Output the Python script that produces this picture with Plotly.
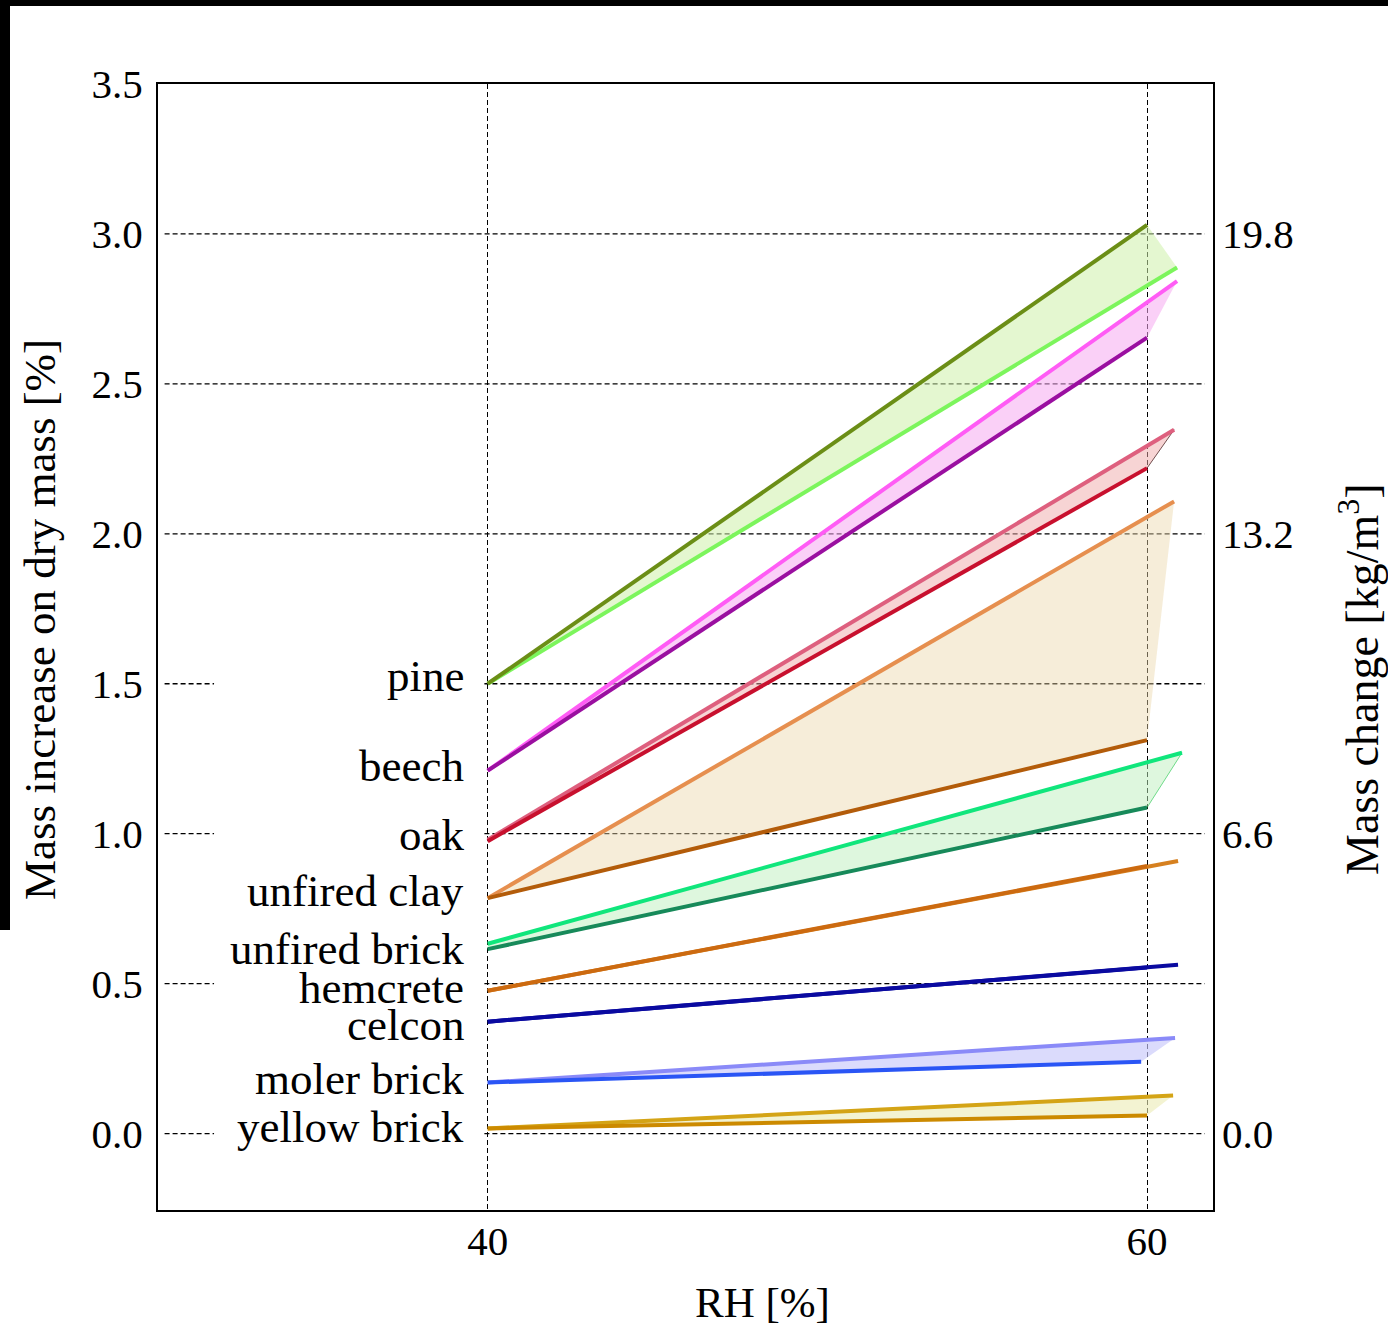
import plotly.graph_objects as go

# ---------------- data ----------------
materials = ["pine", "beech", "oak", "unfired clay", "unfired brick",
             "hemcrete", "celcon", "moler brick", "yellow brick"]
rh_start = 40
start_a = [1.50, 1.21, 0.975, 0.785, 0.615, 0.476, 0.373, 0.170, 0.017]
start_b = [1.50, 1.21, 0.980, 0.785, 0.633, 0.476, 0.373, 0.170, 0.017]
rh_end_a = [60, 60, 60, 60, 60, 60, 60, 59.82, 60]
end_a = [3.030, 2.654, 2.219, 1.312, 1.087, 0.892, 0.554, 0.239, 0.060]
rh_end_b = [60.91, 60.91, 60.82, 60.82, 61.06, 60.94, 60.94, 60.85, 60.79]
end_b = [2.888, 2.843, 2.347, 2.108, 1.270, 0.909, 0.563, 0.319, 0.127]
label_y = [1.525, 1.225, 0.995, 0.809, 0.615, 0.485, 0.362, 0.182, 0.022]

color_a = ["#6b8e16", "#9a0fa0", "#c8102e", "#b35c0a", "#178a5a",
           "#cc6a10", "#0a0aa0", "#2a55f5", "#cc8a00"]
color_b = ["#7cf55c", "#ff5cf5", "#de5f7e", "#e68f4f", "#10e67c",
           "#d6801f", "#0a0aa0", "#8a8af8", "#d4a416"]
fill_colors = ["rgba(205,240,170,0.55)", "rgba(245,170,240,0.55)",
               "rgba(240,170,170,0.5)", "rgba(235,215,170,0.45)",
               "rgba(190,240,190,0.5)", "rgba(230,170,110,0.3)",
               "rgba(120,120,220,0.3)", "rgba(200,200,250,0.65)",
               "rgba(235,235,180,0.6)"]
edge_colors = ["rgba(0,0,0,0)", "rgba(0,0,0,0)", "rgba(60,20,20,0.9)",
               "rgba(0,0,0,0)", "rgba(40,200,80,0.8)", "rgba(0,0,0,0)",
               "rgba(0,0,0,0)", "rgba(0,0,0,0)", "rgba(0,0,0,0)"]

left_ticks = [0.0, 0.5, 1.0, 1.5, 2.0, 2.5, 3.0, 3.5]
right_factor = 6.6
right_ticks = [0.0, 6.6, 13.2, 19.8]
x_ticks = [40, 60]
grid_levels = [0.0, 0.5, 1.0, 1.5, 2.0, 2.5, 3.0]

y_range = [-0.255, 3.5]
x_range = [30, 62]

FONT = "Liberation Serif"

fig = go.Figure()

# fills
for i, m in enumerate(materials):
    fig.add_trace(go.Scatter(
        x=[rh_start, rh_end_a[i], rh_end_b[i], rh_start],
        y=[start_a[i], end_a[i], end_b[i], start_b[i]],
        fill="toself", fillcolor=fill_colors[i],
        mode="lines", line=dict(color=edge_colors[i], width=0.8),
        hoverinfo="skip", showlegend=False))

# lines
for i, m in enumerate(materials):
    fig.add_trace(go.Scatter(
        x=[rh_start, rh_end_b[i]], y=[start_b[i], end_b[i]],
        mode="lines", line=dict(color=color_b[i], width=4),
        name=m + " (upper)", showlegend=False))
    fig.add_trace(go.Scatter(
        x=[rh_start, rh_end_a[i]], y=[start_a[i], end_a[i]],
        mode="lines", line=dict(color=color_a[i], width=4),
        name=m, showlegend=False))

# dummy trace for right axis
fig.add_trace(go.Scatter(x=[None], y=[None], yaxis="y2", showlegend=False,
                         hoverinfo="skip"))

# horizontal dashed grid segments
shapes = []
for g in grid_levels:
    segs = [(30.2, 31.7), (39.9, 61.75)] if g <= 1.5 else [(30.2, 61.75)]
    for a, b in segs:
        shapes.append(dict(type="line", xref="x", yref="y", x0=a, x1=b,
                           y0=g, y1=g, layer="below",
                           line=dict(color="black", width=1.3, dash="5px,3px")))

# black frame artefacts at top/left of the picture
shapes.append(dict(type="rect", xref="paper", yref="paper",
                   x0=-0.16, x1=1.2, y0=(1210 - 6) / 1126, y1=1.1,
                   fillcolor="black", line=dict(width=0), layer="above"))
shapes.append(dict(type="rect", xref="paper", yref="paper",
                   x0=-0.16, x1=(10 - 158) / 1055, y0=(1210 - 930) / 1126, y1=1.1,
                   fillcolor="black", line=dict(width=0), layer="above"))

annotations = []
for i, m in enumerate(materials):
    annotations.append(dict(x=39.35, y=label_y[i],
                            xref="x", yref="y", text=m, showarrow=False,
                            xanchor="right", yanchor="middle",
                            font=dict(family=FONT, size=45, color="black")))

annotations += [
    dict(x=(40 - 158) / 1055, y=(1210 - 620) / 1126, xref="paper", yref="paper",
         text="Mass increase on dry mass [%]", textangle=-90, showarrow=False,
         xanchor="center", yanchor="middle",
         font=dict(family=FONT, size=45, color="black")),
    dict(x=(1359 - 158) / 1055, y=(1210 - 679) / 1126, xref="paper", yref="paper",
         text="Mass change [kg/m<sup>3</sup>]", textangle=-90, showarrow=False,
         xanchor="center", yanchor="middle",
         font=dict(family=FONT, size=46, color="black")),
    dict(x=(762 - 158) / 1055, y=(1210 - 1302) / 1126, xref="paper", yref="paper",
         text="RH [%]", showarrow=False, xanchor="center", yanchor="middle",
         font=dict(family=FONT, size=43, color="black")),
]

fig.update_layout(
    width=1388, height=1327,
    margin=dict(l=158, r=175, t=84, b=117),
    paper_bgcolor="white", plot_bgcolor="white",
    shapes=shapes, annotations=annotations,
    font=dict(family=FONT, size=41, color="black"),
    xaxis=dict(range=x_range, tickvals=x_ticks, ticktext=[str(v) for v in x_ticks],
               showgrid=True, gridcolor="black", gridwidth=1.3, griddash="5px,3px",
               showline=True, linecolor="black", linewidth=2, mirror=True,
               ticks="", ticklabelstandoff=-6, zeroline=False,
               tickfont=dict(family=FONT, size=41, color="black")),
    yaxis=dict(range=y_range, tickvals=left_ticks,
               ticktext=[f"{v:.1f}" for v in left_ticks],
               showgrid=False, zeroline=False,
               showline=True, linecolor="black", linewidth=2, mirror=True,
               ticks="", ticklabelstandoff=5,
               tickfont=dict(family=FONT, size=41, color="black")),
    yaxis2=dict(range=[v * right_factor for v in y_range], overlaying="y", side="right",
                tickvals=right_ticks, ticktext=[f"{v:.1f}" for v in right_ticks],
                showgrid=False, zeroline=False, showline=False,
                ticks="", ticklabelstandoff=8,
                tickfont=dict(family=FONT, size=41, color="black")),
)

fig.write_html("out.html",
               config={"displayModeBar": False},
               post_script="document.body.style.margin='0';"
                           "document.body.style.overflow='hidden';")
